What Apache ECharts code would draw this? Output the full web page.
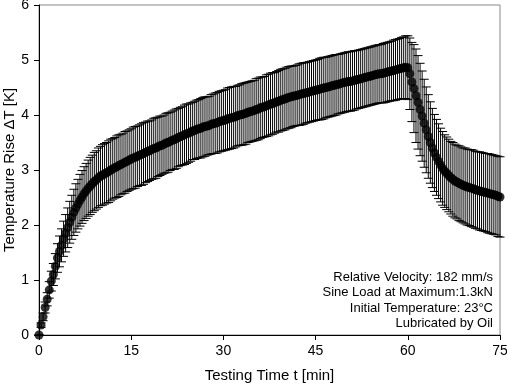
<!DOCTYPE html>
<html>
<head>
<meta charset="utf-8">
<script src="https://cdn.jsdelivr.net/npm/echarts@6/dist/echarts.min.js"></script>
<style>
html,body{margin:0;padding:0;background:#fff;}
#chart{width:507px;height:385px;}
</style>
</head>
<body>
<div id="chart"></div>
<script>
// Sampling: one reading every 20 s (1/3 min), 0 ... 75 min
const sampleStepMin = 1 / 3;

// Mean temperature rise [K]
const meanRise = [
  0.00, 0.18, 0.33, 0.50, 0.65, 0.82, 0.98, 1.10, 1.25, 1.40, 1.52, 1.63, 1.75, 1.85, 1.95,
  2.05, 2.14, 2.23, 2.31, 2.38, 2.45, 2.51, 2.57, 2.62, 2.67, 2.71, 2.75, 2.79, 2.82, 2.86,
  2.89, 2.91, 2.93, 2.95, 2.97, 3.00, 3.02, 3.04, 3.06, 3.08, 3.10, 3.12, 3.14, 3.16, 3.18,
  3.20, 3.22, 3.23, 3.25, 3.27, 3.28, 3.30, 3.32, 3.34, 3.35, 3.37, 3.39, 3.40, 3.42, 3.44,
  3.45, 3.47, 3.49, 3.50, 3.52, 3.54, 3.55, 3.57, 3.59, 3.61, 3.62, 3.64, 3.66, 3.67, 3.69,
  3.71, 3.72, 3.74, 3.75, 3.76, 3.78, 3.79, 3.80, 3.81, 3.83, 3.84, 3.85, 3.86, 3.88, 3.89,
  3.90, 3.91, 3.93, 3.94, 3.95, 3.96, 3.97, 3.99, 4.00, 4.01, 4.02, 4.03, 4.05, 4.06, 4.07,
  4.08, 4.10, 4.11, 4.13, 4.14, 4.15, 4.17, 4.18, 4.20, 4.21, 4.22, 4.24, 4.25, 4.27, 4.28,
  4.29, 4.31, 4.32, 4.33, 4.34, 4.35, 4.36, 4.37, 4.38, 4.39, 4.40, 4.41, 4.42, 4.43, 4.44,
  4.45, 4.46, 4.47, 4.48, 4.49, 4.50, 4.51, 4.52, 4.53, 4.54, 4.55, 4.56, 4.57, 4.58, 4.59,
  4.60, 4.61, 4.61, 4.62, 4.63, 4.64, 4.65, 4.66, 4.67, 4.68, 4.69, 4.70, 4.71, 4.72, 4.73,
  4.74, 4.75, 4.75, 4.76, 4.77, 4.78, 4.79, 4.80, 4.81, 4.82, 4.83, 4.84, 4.85, 4.86, 4.87,
  4.86, 4.75, 4.60, 4.48, 4.35, 4.23, 4.10, 3.98, 3.85, 3.73, 3.61, 3.50, 3.40, 3.31, 3.23,
  3.16, 3.09, 3.03, 2.98, 2.94, 2.90, 2.86, 2.83, 2.80, 2.78, 2.76, 2.74, 2.72, 2.71, 2.69,
  2.68, 2.67, 2.66, 2.64, 2.63, 2.62, 2.61, 2.60, 2.59, 2.58, 2.57, 2.56, 2.55, 2.54, 2.52,
  2.51
];

// Standard deviation [K]
const stdDev = [
  0.00, 0.04, 0.07, 0.10, 0.12, 0.15, 0.18, 0.20, 0.23, 0.26, 0.28, 0.30, 0.32, 0.34, 0.36,
  0.38, 0.40, 0.42, 0.44, 0.45, 0.47, 0.48, 0.49, 0.50, 0.51, 0.52, 0.52, 0.53, 0.53, 0.54,
  0.54, 0.55, 0.55, 0.55, 0.56, 0.56, 0.55, 0.55, 0.56, 0.56, 0.55, 0.55, 0.56, 0.55, 0.55,
  0.55, 0.56, 0.56, 0.55, 0.55, 0.56, 0.56, 0.55, 0.55, 0.54, 0.54, 0.55, 0.55, 0.54, 0.54,
  0.53, 0.53, 0.54, 0.54, 0.53, 0.53, 0.54, 0.54, 0.53, 0.53, 0.53, 0.54, 0.54, 0.53, 0.53,
  0.52, 0.53, 0.53, 0.53, 0.54, 0.54, 0.54, 0.53, 0.53, 0.54, 0.54, 0.55, 0.55, 0.55, 0.55,
  0.55, 0.55, 0.56, 0.56, 0.56, 0.56, 0.55, 0.55, 0.55, 0.56, 0.56, 0.56, 0.55, 0.55, 0.55,
  0.55, 0.56, 0.56, 0.56, 0.55, 0.55, 0.56, 0.56, 0.56, 0.56, 0.55, 0.55, 0.56, 0.56, 0.56,
  0.56, 0.56, 0.56, 0.56, 0.55, 0.55, 0.55, 0.56, 0.56, 0.56, 0.55, 0.55, 0.55, 0.55, 0.55,
  0.55, 0.55, 0.56, 0.56, 0.56, 0.55, 0.55, 0.55, 0.55, 0.55, 0.55, 0.54, 0.54, 0.54, 0.54,
  0.54, 0.54, 0.54, 0.54, 0.54, 0.53, 0.53, 0.53, 0.53, 0.53, 0.53, 0.53, 0.53, 0.53, 0.53,
  0.53, 0.53, 0.53, 0.54, 0.54, 0.54, 0.54, 0.54, 0.55, 0.55, 0.55, 0.55, 0.56, 0.56, 0.57,
  0.58, 0.65, 0.72, 0.80, 0.85, 0.85, 0.84, 0.82, 0.80, 0.78, 0.76, 0.74, 0.72, 0.70, 0.69,
  0.68, 0.67, 0.67, 0.66, 0.66, 0.66, 0.66, 0.67, 0.67, 0.67, 0.68, 0.68, 0.68, 0.69, 0.69,
  0.69, 0.70, 0.70, 0.70, 0.70, 0.71, 0.71, 0.71, 0.71, 0.72, 0.72, 0.72, 0.72, 0.72, 0.73,
  0.73
];

const xTicks = [0, 15, 30, 45, 60, 75];
const yTicks = [0, 1, 2, 3, 4, 5, 6];
const noteLines = [
  'Relative Velocity: 182 mm/s',
  'Sine Load at Maximum:1.3kN',
  'Initial Temperature: 23\u00B0C',
  'Lubricated by Oil'
];

const times = meanRise.map((_, i) => i * sampleStepMin);
const pointData = meanRise.map((v, i) => [times[i], v]);
const errData = meanRise.map((v, i) => [times[i], v - stdDev[i], v + stdDev[i]]);

const FONT = '"Liberation Sans", Arial, sans-serif';
const chart = echarts.init(document.getElementById('chart'), null, {renderer: 'canvas'});

chart.setOption({
  animation: false,
  backgroundColor: '#fff',
  grid: {left: 39, right: 7, top: 5, bottom: 50, show: true, borderColor: '#888', borderWidth: 1,
         containLabel: false, outerBoundsMode: 'none'},
  xAxis: {
    type: 'value', min: xTicks[0], max: xTicks[xTicks.length - 1], interval: 15,
    name: 'Testing Time t [min]', nameLocation: 'middle', nameGap: 33, nameMoveOverlap: false,
    nameTextStyle: {fontFamily: FONT, fontSize: 15, color: '#000'},
    axisLine: {show: true, onZero: false, lineStyle: {color: '#000', width: 1}},
    axisTick: {show: true, inside: false, length: 5, lineStyle: {color: '#000'}},
    axisLabel: {fontFamily: FONT, fontSize: 14, color: '#000', margin: 9},
    splitLine: {show: false}
  },
  yAxis: {
    type: 'value', min: yTicks[0], max: yTicks[yTicks.length - 1], interval: 1,
    name: 'Temperature Rise \u0394T [K]', nameLocation: 'middle', nameGap: 22, nameMoveOverlap: false,
    nameTextStyle: {fontFamily: FONT, fontSize: 15, color: '#000'},
    axisLine: {show: true, onZero: false, lineStyle: {color: '#000', width: 1}},
    axisTick: {show: true, inside: false, length: 5, lineStyle: {color: '#000'}},
    axisLabel: {fontFamily: FONT, fontSize: 14, color: '#000', margin: 10},
    splitLine: {show: false}
  },
  series: [
    {
      type: 'custom',
      data: errData,
      encode: {x: 0, y: [1, 2]},
      clip: false,
      z: 2,
      renderItem: function (params, api) {
        const t = api.value(0);
        const pHi = api.coord([t, api.value(2)]);
        const pLo = api.coord([t, api.value(1)]);
        const w = 4.5;
        const st = {stroke: '#000', lineWidth: 1};
        return {
          type: 'group',
          children: [
            {type: 'line', shape: {x1: pHi[0], y1: pHi[1], x2: pLo[0], y2: pLo[1]}, style: st},
            {type: 'line', shape: {x1: pHi[0] - w, y1: pHi[1], x2: pHi[0] + w, y2: pHi[1]}, style: st},
            {type: 'line', shape: {x1: pLo[0] - w, y1: pLo[1], x2: pLo[0] + w, y2: pLo[1]}, style: st}
          ]
        };
      }
    },
    {
      type: 'scatter',
      data: pointData,
      symbol: 'circle',
      symbolSize: 9,
      itemStyle: {color: '#000'},
      z: 3,
      clip: false
    }
  ],
  graphic: noteLines.map((line, i) => ({
    type: 'text',
    x: 493,
    y: 271 + i * 15.3,
    style: {
      text: line,
      fontFamily: FONT,
      fontSize: 13,
      fill: '#000',
      align: 'right',
      verticalAlign: 'top'
    }
  }))
});
</script>
</body>
</html>
